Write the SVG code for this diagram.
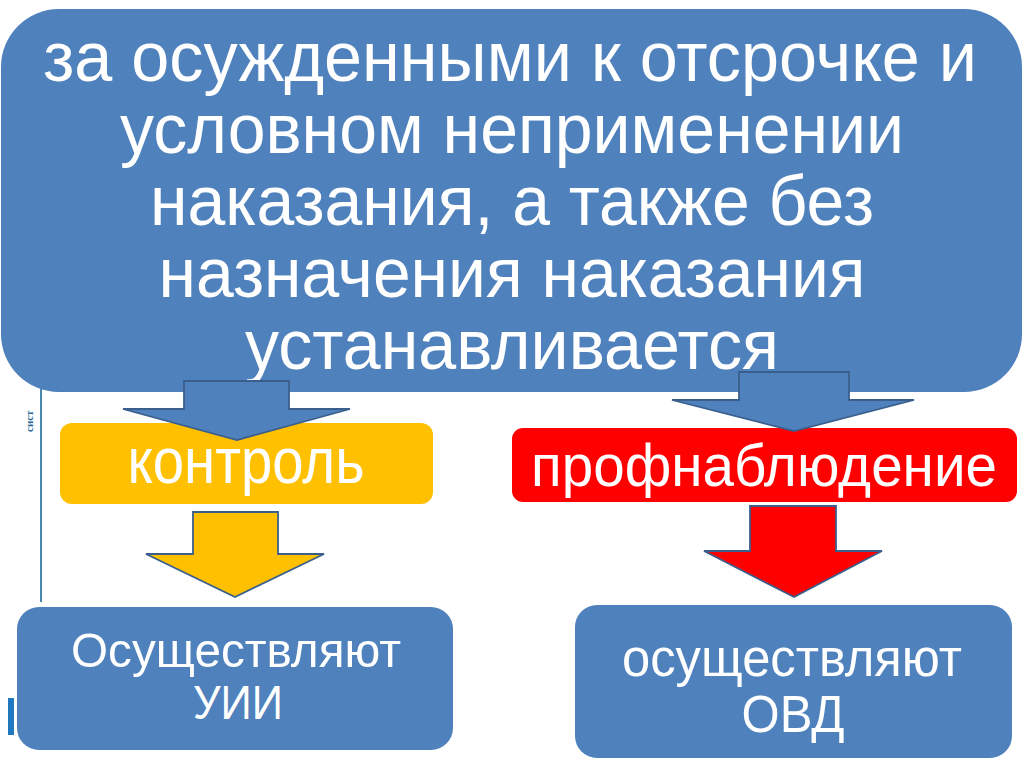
<svg xmlns="http://www.w3.org/2000/svg" width="1024" height="767" viewBox="0 0 1024 767">
<style>
.t{font-family:"Liberation Sans",Arial,"DejaVu Sans",sans-serif;fill:#FFFFFF;text-anchor:middle}
.blue{fill:#4F81BD}
.arr{stroke:#3A5F8C;stroke-width:1.8;stroke-linejoin:miter}
</style>
<rect width="1024" height="767" fill="#FFFFFF"/>
<g id="background">
<line x1="41" y1="388" x2="41" y2="602" stroke="#4A86AE" stroke-width="2"/>
<rect x="8" y="698" width="6" height="37" fill="#1F78C0"/>
<text x="0" y="0" transform="translate(33,432) rotate(-90)" font-family="'Liberation Serif',serif" font-size="11" font-weight="bold" fill="#2E6A9A">сист</text>
</g>
<g id="main">
<rect class="blue" x="1" y="9" width="1021" height="383" rx="58" ry="58"/>
<text class="t" font-size="71" x="510" y="81" textLength="934" lengthAdjust="spacingAndGlyphs">за осужденными к отсрочке и</text>
<text class="t" font-size="71" x="512" y="153" textLength="784" lengthAdjust="spacingAndGlyphs">условном неприменении</text>
<text class="t" font-size="71" x="512" y="225" textLength="724" lengthAdjust="spacingAndGlyphs">наказания, а также без</text>
<text class="t" font-size="71" x="512" y="297" textLength="707" lengthAdjust="spacingAndGlyphs">назначения наказания</text>
<text class="t" font-size="71" x="512" y="369" textLength="534" lengthAdjust="spacingAndGlyphs">устанавливается</text>
</g>
<g id="control">
<rect x="60" y="423" width="373" height="81" rx="12" ry="12" fill="#FFC000"/>
<text class="t" x="246" y="483" font-size="64" textLength="237" lengthAdjust="spacingAndGlyphs">контроль</text>
</g>
<g id="profnabl">
<rect x="512" y="428" width="505" height="74" rx="11" ry="11" fill="#FF0000"/>
<text class="t" x="764" y="486" font-size="60" textLength="466" lengthAdjust="spacingAndGlyphs">профнаблюдение</text>
</g>
<g id="uii">
<rect class="blue" x="17" y="607" width="436" height="143" rx="22" ry="22"/>
<text class="t" font-size="49" x="236" y="667" textLength="330" lengthAdjust="spacingAndGlyphs">Осуществляют</text>
<text class="t" font-size="49" x="238" y="719" textLength="90" lengthAdjust="spacingAndGlyphs">УИИ</text>
</g>
<g id="ovd">
<rect class="blue" x="575" y="605" width="437" height="153" rx="22" ry="22"/>
<text class="t" font-size="51" x="792" y="676" textLength="340" lengthAdjust="spacingAndGlyphs">осуществляют</text>
<text class="t" font-size="51" x="793" y="732" textLength="103" lengthAdjust="spacingAndGlyphs">ОВД</text>
</g>
<g id="connectors">
<polygon class="blue arr" points="184,381 289,381 289,409 350,409 237,440 123,409 184,409"/>
<polygon class="blue arr" points="739,372 849,372 849,400 914,400 794,431 672,400 739,400"/>
<polygon class="arr" fill="#FFC000" points="193,512 278,512 278,554 324,554 235,597 146,554 193,554"/>
<polygon class="arr" fill="#FF0000" points="750,506 836,506 836,551 882,551 794,597 704,551 750,551"/>
</g>
</svg>
